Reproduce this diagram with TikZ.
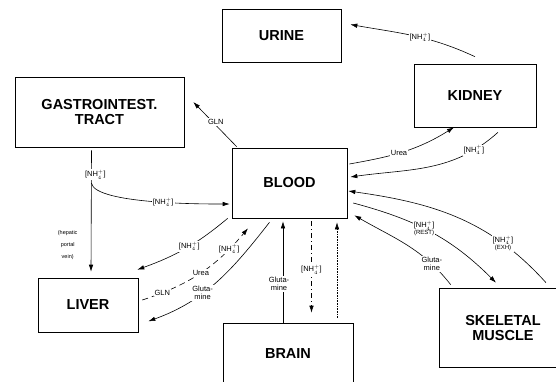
\documentclass[tikz,border=0pt]{standalone}
\usepackage{fontspec}
\setmainfont{Liberation Sans}
\usetikzlibrary{arrows.meta,positioning,calc}
\newcommand{\ammon}{[NH$^{+}_{4}$]}
\newcommand{\smalltag}[1]{{\fontsize{6}{6}\selectfont #1}}

\begin{document}
\begin{tikzpicture}[x=1pt,y=-1pt,>={Latex[length=7pt,width=4.5pt]},
  organ/.style={draw,line width=0.6pt,font=\fontsize{14.5}{15}\selectfont\bfseries,align=center,inner sep=0pt},
  flow/.style={->,line width=0.6pt},
  lbl/.style={fill=white,inner sep=1pt,font=\fontsize{7.5}{8}\selectfont,align=center}]
  \fill[white] (0,0) rectangle (556,381);
  \useasboundingbox (0,0) rectangle (556,381);
  \clip (0,0) rectangle (556,381);

  % organs
  \node[organ,minimum width=119pt,minimum height=53pt] (urine) at (281.5,35.5) {URINE};
  \node[organ,minimum width=122pt,minimum height=63pt] (kidney) at (475,95.5) {KIDNEY};
  \node[organ,minimum width=169pt,minimum height=70pt] (gi) at (99.5,112) {GASTROINTEST.\\TRACT};
  \node[organ,minimum width=115pt,minimum height=70pt] (blood) at (289.5,183) {BLOOD};
  \node[organ,minimum width=100pt,minimum height=54pt] (liver) at (88,305) {LIVER};
  \node[organ,minimum width=130pt,minimum height=62pt] (brain) at (288,354) {BRAIN};
  \node[organ,minimum width=128pt,minimum height=79pt] (muscle) at (503,327.5) {SKELETAL\\MUSCLE};

  % kidney, gut
  \draw[flow] ([yshift=7pt]kidney.north) to[out=155,in=-10]
    node[lbl,pos=0.45] {\ammon} ([xshift=9pt,yshift=11pt]urine.east);
  \draw[flow] ([xshift=5pt,yshift=1pt]blood.north west) --
    node[lbl,pos=0.55,xshift=3pt] {GLN} ([xshift=9pt,yshift=10pt]gi.east);
  \draw[flow] ([xshift=2pt,yshift=19pt]blood.east) to[out=10,in=-148]
    node[lbl,pos=0.45] {Urea} ([xshift=-21pt]kidney.south);
  \draw[flow] ([xshift=23pt,yshift=-5pt]kidney.south) to[out=-138,in=8]
    node[lbl,pos=0.18] {\ammon} ([xshift=3pt,yshift=6pt]blood.east);
  \draw[flow] ([xshift=-8pt,yshift=-3pt]gi.south) --
    node[lbl,pos=0.2,xshift=4pt] {\ammon}
    coordinate[pos=0.27] (branch)
    node[pos=0.78,left=10pt,align=center,font=\fontsize{5.5}{12}\selectfont] {(hepatic\\portal\\vein)}
    ([xshift=3pt,yshift=6pt]liver.north);
  \draw[flow] (branch) to[out=-80,in=180,looseness=0.4]
    node[lbl,pos=0.55] {\ammon} ([xshift=-2pt,yshift=-21pt]blood.west);

  % liver
  \draw[flow] ([xshift=-4pt]blood.south west) to[out=-140,in=20]
    node[lbl,pos=0.45] {\ammon} ([xshift=-1pt,yshift=8pt]liver.north east);
  \draw[flow,dash pattern=on 6pt off 4pt] ([xshift=4pt,yshift=5pt]liver.east) to[out=18,in=-130]
    node[lbl,pos=0.15] {GLN} node[lbl,pos=0.5] {Urea} node[lbl,pos=0.8] {\ammon}
    ([xshift=-41.5pt,yshift=-10pt]blood.south);
  \draw[flow] ([xshift=-20pt,yshift=-4pt]blood.south) to[out=-128,in=20]
    node[lbl,pos=0.62] {Gluta-\\mine} ([xshift=10pt,yshift=11pt]liver.south east);

  % brain
  \draw[flow] ([xshift=-5pt]brain.north) --
    node[lbl,pos=0.38,xshift=-4pt] {Gluta-\\mine} ([xshift=-6.5pt,yshift=-3pt]blood.south);
  \draw[flow,dash pattern=on 5pt off 3pt on 1pt off 3pt] ([xshift=22pt,yshift=-3pt]blood.south) --
    node[lbl,pos=0.53] {\ammon} ([xshift=23.5pt,yshift=10pt]brain.north);
  \draw[flow,densely dotted] ([xshift=49pt,yshift=5pt]brain.north) -- ([xshift=47.5pt,yshift=-4pt]blood.south);

  % skeletal muscle
  \draw[flow] ([xshift=6pt,yshift=-20pt]blood.east) to[out=-15,in=135]
    node[lbl,pos=0.45] {\ammon\\[-1pt]\smalltag{(REST)}} ([xshift=-7pt,yshift=5pt]muscle.north);
  \draw[flow] ([xshift=12pt,yshift=3pt]muscle.north west) to[out=128,in=-30]
    node[lbl,pos=0.22] {Gluta-\\mine} ([xshift=7pt,yshift=3pt]blood.south east);
  \draw[flow] ([xshift=43pt,yshift=5pt]muscle.north) to[out=132,in=-8]
    node[lbl,pos=0.25] {\ammon\\[-1pt]\smalltag{(EXH)}} ([xshift=1pt,yshift=-8pt]blood.east);
\end{tikzpicture}
\end{document}
